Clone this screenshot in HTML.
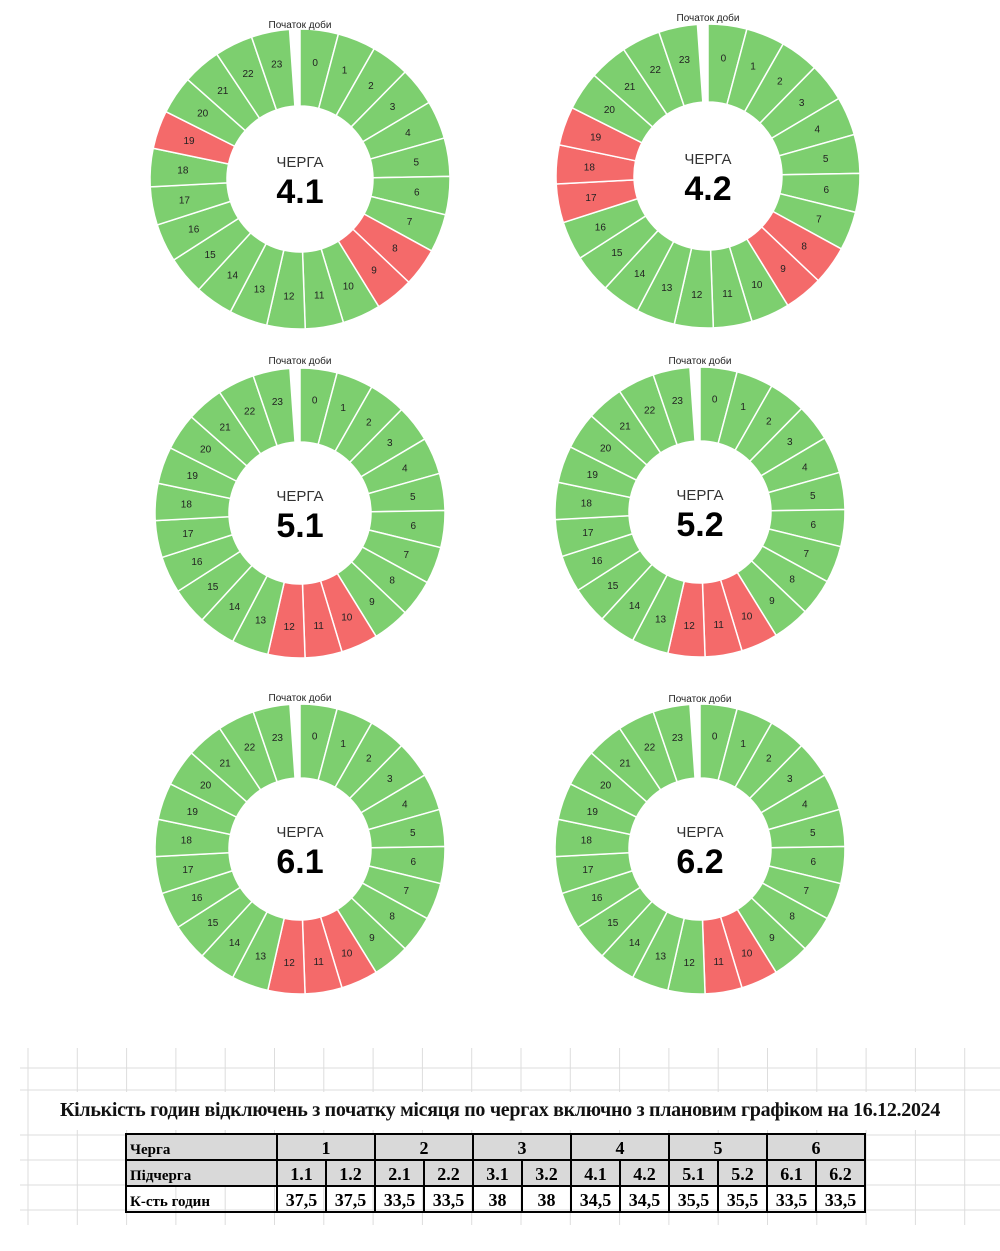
<!DOCTYPE html>
<html><head><meta charset="utf-8">
<style>
body{margin:0;background:#fff;width:1000px;height:1251px;overflow:hidden;font-family:"Liberation Sans",sans-serif;}
svg{position:absolute;left:0;top:0}
#tbl{position:absolute;left:125px;top:1133px;border-collapse:collapse;font-family:"Liberation Serif",serif;font-weight:bold;}
#tbl td{border:2px solid #000;height:24px;padding:0;text-align:center;font-size:18px;width:47px;vertical-align:bottom}
#tbl td.h{text-align:left;width:146px;font-size:15px;padding-left:3px}
#tbl tr.g td{background:#d9d9d9}
#title{position:absolute;left:0;width:1000px;top:1099px;text-align:center;font-family:"Liberation Serif",serif;font-weight:bold;font-size:20px;letter-spacing:-0.3px;color:#111}
</style></head><body>
<svg id="s" width="1000" height="1251"></svg>
<div id="title">Кількість годин відключень з початку місяця по чергах включно з плановим графіком на 16.12.2024</div>
<table id="tbl">
<tr class="g"><td class="h">Черга</td><td colspan="2">1</td><td colspan="2">2</td><td colspan="2">3</td><td colspan="2">4</td><td colspan="2">5</td><td colspan="2">6</td></tr>
<tr class="g"><td class="h">Підчерга</td><td>1.1</td><td>1.2</td><td>2.1</td><td>2.2</td><td>3.1</td><td>3.2</td><td>4.1</td><td>4.2</td><td>5.1</td><td>5.2</td><td>6.1</td><td>6.2</td></tr>
<tr><td class="h">К-сть годин</td><td>37,5</td><td>37,5</td><td>33,5</td><td>33,5</td><td>38</td><td>38</td><td>34,5</td><td>34,5</td><td>35,5</td><td>35,5</td><td>33,5</td><td>33,5</td></tr>
</table>
<script>
const s=document.getElementById('s');let h='';
for(let x=28;x<1000;x+=49.3)h+=`<line x1="${x}" y1="1048" x2="${x}" y2="1225" stroke="#ddd" stroke-width="1"/>`;
for(const y of [1068,1090,1135,1160,1185,1210])h+=`<line x1="20" y1="${y}" x2="1000" y2="${y}" stroke="#ddd" stroke-width="1"/>`;
h+=`<rect x="60" y="1092" width="880" height="38" fill="#fff"/>`;
const charts=[
 [300,179,150,73,'4.1',[8,9,19],25],
 [708,176,152,74,'4.2',[8,9,17,18,19],18],
 [300,513,145,71,'5.1',[10,11,12],361],
 [700,512,145,71,'5.2',[10,11,12],361],
 [300,849,145,71,'6.1',[10,11,12],698],
 [700,849,145,71,'6.2',[10,11],699]];
function pt(cx,cy,r,a){a=(a-90)*Math.PI/180;return [cx+r*Math.cos(a),cy+r*Math.sin(a)];}
for(const [cx,cy,R,r,lab,red,ty] of charts){
 const step=356/24;
 for(let i=0;i<24;i++){
  const a0=i*step,a1=(i+1)*step;
  const p1=pt(cx,cy,R,a0),p2=pt(cx,cy,R,a1),p3=pt(cx,cy,r,a1),p4=pt(cx,cy,r,a0);
  const c=red.includes(i)?'#f46a6a':'#7dcf6f';
  h+=`<path d="M${p1} A${R},${R} 0 0 1 ${p2} L${p3} A${r},${r} 0 0 0 ${p4}Z" fill="${c}" stroke="#fff" stroke-width="1.5"/>`;
  const m=pt(cx,cy,(R+r)/2+6,(a0+a1)/2);
  h+=`<text x="${m[0]}" y="${m[1]+3.5}" font-size="10" text-anchor="middle" fill="#222">${i}</text>`;
 }
 h+=`<text x="${cx}" y="${ty+3}" font-size="10" text-anchor="middle" fill="#222">Початок доби</text>`;
 h+=`<text x="${cx}" y="${cy-12}" font-size="15" text-anchor="middle" fill="#333">ЧЕРГА</text>`;
 h+=`<text x="${cx}" y="${cy+24}" font-size="34" font-weight="bold" text-anchor="middle" fill="#000">${lab}</text>`;
}
s.innerHTML=h;
</script>
</body></html>
